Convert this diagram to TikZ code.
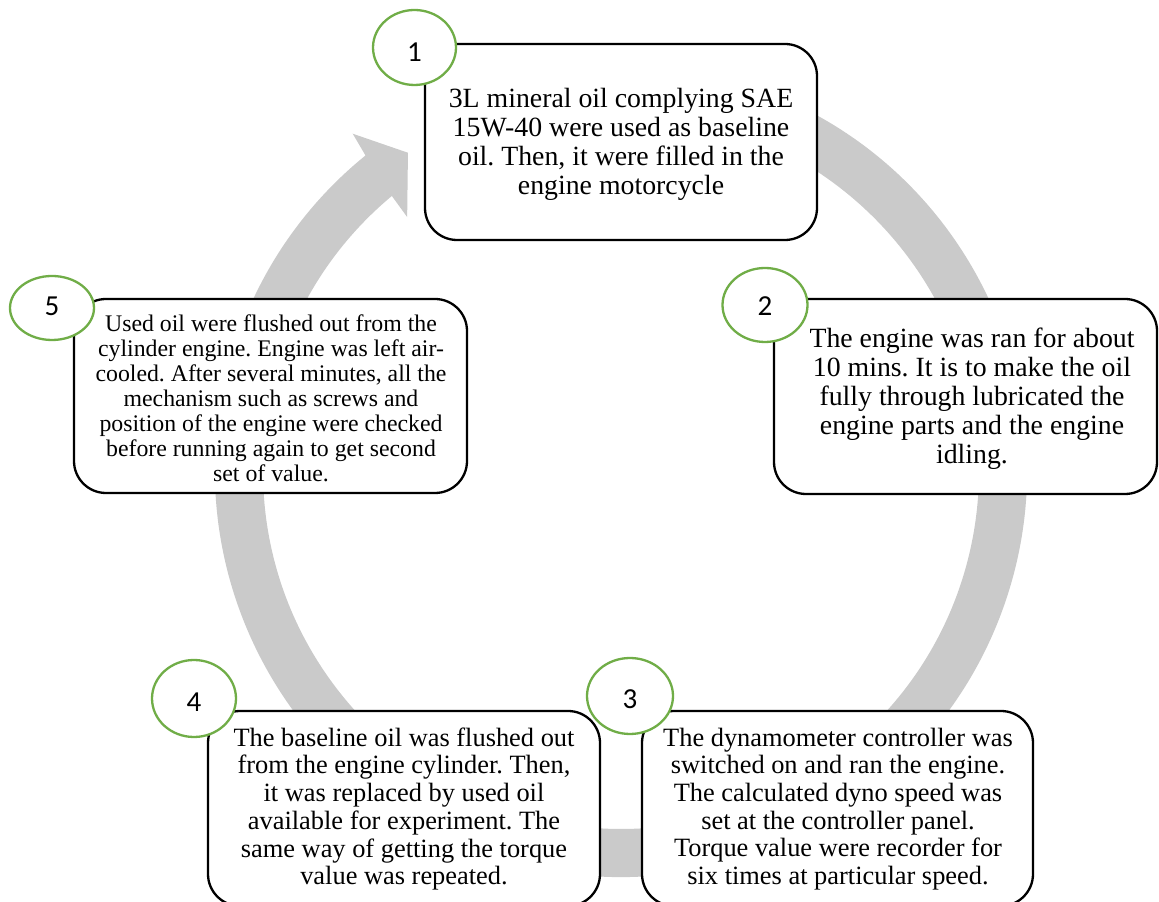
\documentclass[tikz,border=0pt]{standalone}
\usepackage{fontspec}
\setmainfont{Liberation Serif}
\newfontfamily\numfont{Carlito}
\usetikzlibrary{shapes.geometric}
\definecolor{bandgray}{HTML}{CACACA}
\definecolor{stepgreen}{HTML}{70AD47}
\frenchspacing
\tikzset{
  stepbox/.style={draw=black, line width=2.3pt, rounded corners=32pt, fill=white, inner sep=0pt},
  numoval/.style={draw=stepgreen, line width=2.3pt, fill=white, ellipse, inner sep=0pt},
  numtext/.style={font=\numfont\fontsize{29}{29}\selectfont, inner sep=0pt},
  txtA/.style={align=center, inner sep=0pt, font=\fontsize{27.8}{29}\selectfont},
  txtB/.style={align=center, inner sep=0pt, font=\fontsize{23.8}{25}\selectfont},
  txtC/.style={align=center, inner sep=0pt, font=\fontsize{26.4}{27.7}\selectfont},
}
\begin{document}
\begin{tikzpicture}[x=1pt,y=1pt]
\useasboundingbox (0,0) rectangle (1159,902);
% circular arrow band
\begin{scope}[shift={(621,431)}]
  \fill[bandgray] (70:406) arc[start angle=70, end angle=-231, radius=406]
    -- (128.5:431) -- (123.8:383) -- (130.1:332) -- (129.8:358)
    arc[start angle=-230.2, end angle=70, radius=358] -- cycle;
\end{scope}
% boxes
\node[stepbox, minimum width=392pt, minimum height=196pt] (b1) at (621,760) {};
\node[stepbox, minimum width=383pt, minimum height=195pt] (b2) at (965.5,505.5) {};
\node[stepbox, minimum width=393pt, minimum height=194pt] (b5) at (270.5,506) {};
\node[stepbox, minimum width=392pt, minimum height=195pt] (b4) at (404,93.5) {};
\node[stepbox, minimum width=391pt, minimum height=195pt] (b3) at (837.5,93.5) {};
% texts
\node[txtA] (t1) at (621,758) {3L mineral oil complying SAE\\15W-40 were used as baseline\\oil. Then, it were filled in the\\engine motorcycle};
\node[txtA] (t2) at (972,503) {The engine was ran for about\\10 mins. It is to make the oil\\fully through lubricated the\\engine parts and the engine\\idling.};
\node[txtB] (t5) at (271,504) {Used oil were flushed out from the\\cylinder engine. Engine was left air-\\cooled. After several minutes, all the\\mechanism such as screws and\\position of the engine were checked\\before running again to get second\\set of value.};
\node[txtC] (t4) at (404,93) {The baseline oil was flushed out\\from the engine cylinder. Then,\\it was replaced by used oil\\available for experiment. The\\same way of getting the torque\\value was repeated.};
\node[txtC] (t3) at (838,93) {The dynamometer controller was\\switched on and ran the engine.\\The calculated dyno speed was\\set at the controller panel.\\Torque value were recorder for\\six times at particular speed.};
% number ovals
\node[numoval, minimum width=83pt, minimum height=75pt] (c1) at (414.5,854.5) {};
\node[numoval, minimum width=85pt, minimum height=74pt] (c2) at (765,597) {};
\node[numoval, minimum width=84pt, minimum height=64pt] (c5) at (52,594) {};
\node[numoval, minimum width=84pt, minimum height=77pt] (c4) at (194,203.5) {};
\node[numoval, minimum width=86pt, minimum height=76pt] (c3) at (630,206) {};
\node[numtext] (d1) at ([yshift=-5pt]c1.center) {1};
\node[numtext] (d2) at ([yshift=-1.5pt]c2.center) {2};
\node[numtext] (d5) at ([yshift=2pt]c5.center) {5};
\node[numtext] (d4) at ([yshift=-4pt]c4.center) {4};
\node[numtext] (d3) at ([yshift=-3.5pt]c3.center) {3};
\end{tikzpicture}
\end{document}
